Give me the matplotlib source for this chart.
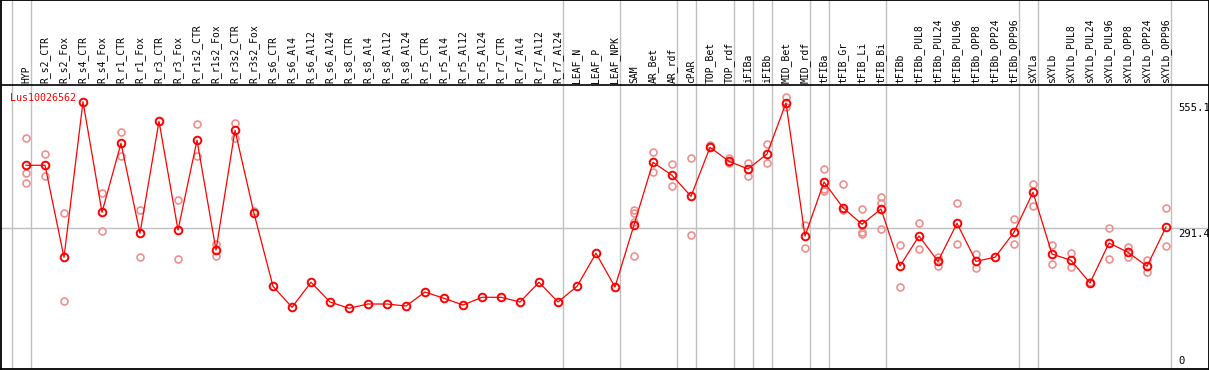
import matplotlib
matplotlib.use("Agg")
import matplotlib.pyplot as plt

categories = ["HYP", "R_s2_CTR", "R_s2_Fox", "R_s4_CTR", "R_s4_Fox", "R_r1_CTR", "R_r1_Fox",
              "R_r3_CTR", "R_r3_Fox", "R_r1s2_CTR", "R_r1s2_Fox", "R_r3s2_CTR", "R_r3s2_Fox",
              "R_s6_CTR", "R_s6_Al4", "R_s6_Al12", "R_s6_Al24", "R_s8_CTR", "R_s8_Al4", "R_s8_Al12",
              "R_s8_Al24", "R_r5_CTR", "R_r5_Al4", "R_r5_Al12", "R_r5_Al24", "R_r7_CTR", "R_r7_Al4",
              "R_r7_Al12", "R_r7_Al24", "LEAF_N", "LEAF_P", "LEAF_NPK", "SAM", "AR_Bet", "AR_rdf",
              "cPAR", "TOP_Bet", "TOP_rdf", "iFIBa", "iFIBb", "MID_Bet", "MID_rdf", "tFIBa",
              "tFIB_Gr", "tFIB_Li", "tFIB_Bi", "tFIBb", "tFIBb_PUL8", "tFIBb_PUL24", "tFIBb_PUL96",
              "tFIBb_OPP8", "tFIBb_OPP24", "tFIBb_OPP96", "sXYLa", "sXYLb", "sXYLb_PUL8",
              "sXYLb_PUL24", "sXYLb_PUL96", "sXYLb_OPP8", "sXYLb_OPP24", "sXYLb_OPP96"]

mean_values = [422.6, 422.6, 230.8, 555.1, 324.6, 468.4, 280.8, 514.3, 287.7, 474.7, 246.0,
               495.5, 322.5, 170.3, 126.5, 178.7, 137.6, 124.5, 133.4, 133.4, 129.2, 158.4,
               145.3, 131.3, 147.4, 147.4, 137.6, 178.7, 137.6, 170.3, 239.1, 168.9, 298.1,
               428.8, 401.7, 357.9, 460.1, 430.9, 414.8, 446.1, 552.5, 275.2, 387.7, 334.2,
               299.6, 331.5, 212.6, 275.2, 222.4, 301.6, 222.4, 230.8, 282.9, 366.3, 237.6,
               224.5, 177.2, 260.6, 241.2, 212.0, 293.9]

replicates = {
    "HYP": [478.8, 405.9, 385.0],
    "R_s2_CTR": [445.5, 399.6],
    "R_s2_Fox": [322.5, 139.0],
    "R_s4_Fox": [364.2, 285.0],
    "R_r1_CTR": [491.3, 442.6],
    "R_r1_Fox": [328.7, 230.8],
    "R_r3_Fox": [349.6, 226.6],
    "R_r1s2_CTR": [508.0, 441.3],
    "R_r1s2_Fox": [259.1, 232.9],
    "R_r3s2_CTR": [510.7, 478.8],
    "R_r3s2_Fox": [327.9],
    "SAM": [329.4, 323.7, 305.0, 232.9],
    "AR_Bet": [449.7, 408.0],
    "AR_rdf": [425.3, 380.0],
    "cPAR": [437.2, 277.3],
    "TOP_Bet": [465.5, 461.3],
    "TOP_rdf": [438.4, 426.7],
    "iFIBa": [428.0, 400.9],
    "iFIBb": [467.0, 426.7],
    "MID_Bet": [564.3, 543.5],
    "MID_rdf": [298.1, 249.5],
    "tFIBa": [414.8, 372.5, 369.0],
    "tFIB_Gr": [383.0, 329.4],
    "tFIB_Li": [330.8, 284.1, 278.7],
    "tFIB_Bi": [357.1, 343.3, 289.1],
    "tFIBb": [256.4, 168.2],
    "tFIBb_PUL8": [301.6, 248.1],
    "tFIBb_PUL24": [232.0, 213.3],
    "tFIBb_PUL96": [343.3, 258.5],
    "tFIBb_OPP8": [238.3, 207.8],
    "tFIBb_OPP96": [310.0, 258.5],
    "sXYLa": [383.6, 337.7],
    "sXYLb": [256.4, 216.8],
    "sXYLb_PUL8": [239.7, 209.9],
    "sXYLb_PUL24": [179.9],
    "sXYLb_PUL96": [291.8, 227.2],
    "sXYLb_OPP8": [251.6, 232.0],
    "sXYLb_OPP24": [225.1, 199.5],
    "sXYLb_OPP96": [333.5, 253.7],
}

group_lines_after = [-1, 0, 28, 31, 34, 35, 37, 38, 39, 41, 42, 45, 52, 53, 60]
y_ticks = [555.1, 291.4]
gene_name = "Lus10026562"

W, H = 1209, 370
fig = plt.figure(figsize=(W / 100, H / 100), dpi=100)
ax = fig.add_axes([1.3 / W, 1 / H, (1208.5 - 1.3) / W, 369 / H])

px_per_unit = 0.4797
x0, dx = 26.0, 19.0
ax.set_xlim((1.3 - x0) / dx, (1208.5 - x0) / dx)
ax.set_ylim((368 - 369) / px_per_unit, 368 / px_per_unit)
sep_val = (368 - 85) / px_per_unit
label_base = (368 - 83) / px_per_unit

mono = "DejaVu Sans Mono"
xs = list(range(len(categories)))

for g in group_lines_after:
    ax.axvline(g + 4.7 / dx, color="#c0c0c0", lw=1.0, zorder=1)
ax.axhline(y_ticks[1], color="#c0c0c0", lw=1.0, zorder=1)
ax.axhline(sep_val, color="black", lw=1.2, zorder=2)

for i, c in enumerate(categories):
    for v in replicates.get(c, []):
        ax.plot(i, v, marker="o", ms=5, mfc="none", mec="#ee9090", mew=1.2,
                ls="none", zorder=3)

ax.plot(xs, mean_values, color="red", lw=0.9, zorder=4)
ax.plot(xs, mean_values, marker="o", ms=5.5, mfc="none", mec="red", mew=1.4,
        ls="none", zorder=5)

for i, c in enumerate(categories):
    ax.text(i, label_base, c, rotation=90, ha="center", va="bottom",
            fontsize=7, family=mono, color="black")

ax.text((10 - x0) / dx, (368 - 98) / px_per_unit, gene_name, ha="left", va="center",
        fontsize=7.2, family=mono, color="red")

xr = (1178 - x0) / dx
for v in y_ticks:
    ax.text(xr, v - 1 / px_per_unit, f"{v:.1f}", ha="left", va="top", fontsize=7.6,
            family=mono, color="black")
ax.text(xr, 1.5 / px_per_unit, "0", ha="left", va="bottom", fontsize=7.6, family=mono,
        color="black")

ax.set_xticks([])
ax.set_yticks([])
for s in ax.spines.values():
    s.set_color("black")
    s.set_linewidth(1.3)

fig.savefig("out.png", dpi=100)
